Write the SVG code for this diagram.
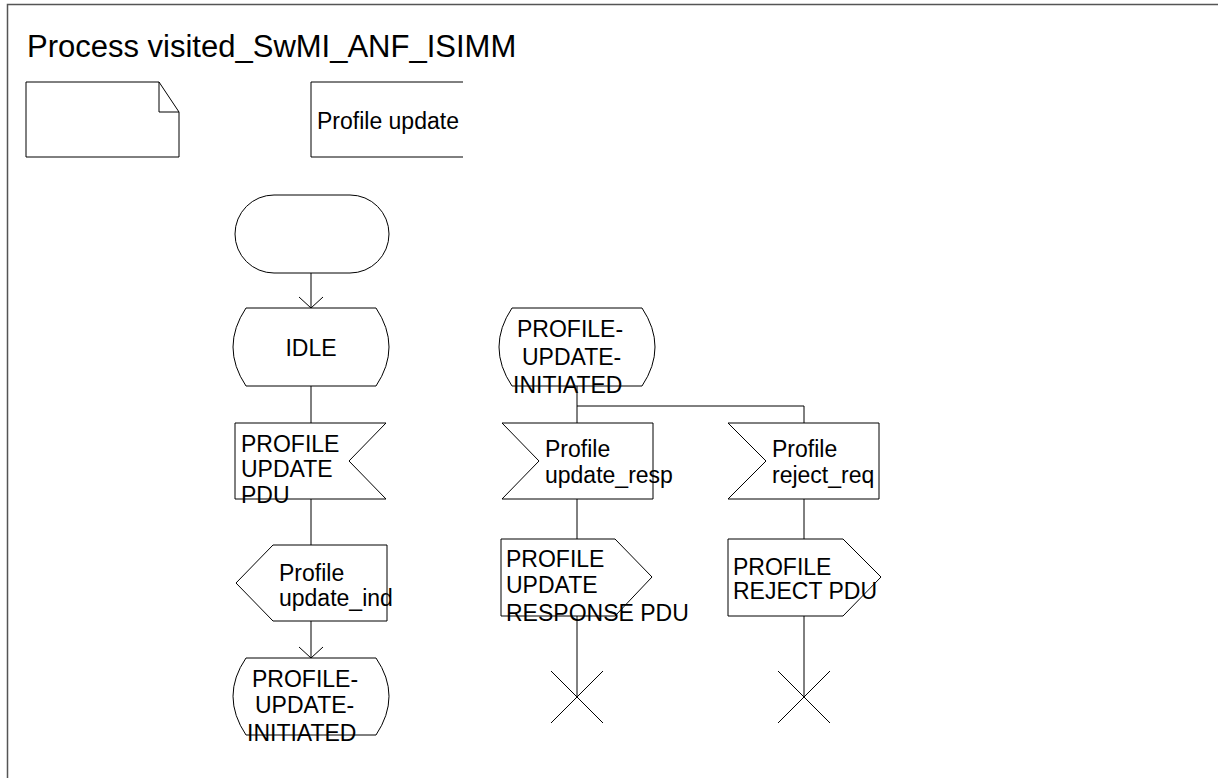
<svg xmlns="http://www.w3.org/2000/svg" width="1218" height="778" viewBox="0 0 1218 778">
<style>
.s{fill:#fff;stroke:#000;stroke-width:1}
.l{fill:none;stroke:#000;stroke-width:1}
.t{font-family:"Liberation Sans",Arial,sans-serif;font-size:23px;fill:#000}
.ti{font-family:"Liberation Sans",Arial,sans-serif;font-size:31px;fill:#000}
</style>
<defs>
<marker id="arr" viewBox="-12 -13 14 26" refX="0" refY="0" markerWidth="14" markerHeight="26" markerUnits="userSpaceOnUse" orient="auto">
<path d="M-11,-12 L0,0 L-11,12" fill="none" stroke="#000" stroke-width="1"/>
</marker>
</defs>
<rect width="1218" height="778" fill="#fff"/>
<g id="frame"><path d="M7.5,778 V4.5 H1218" fill="none" stroke="#555" stroke-width="1.5"/></g>
<g id="title"><text class="ti" x="27" y="57">Process visited_SwMI_ANF_ISIMM</text></g>
<g id="comment"><path class="s" d="M26,82 H159 L179,112 V157 H26 Z"/><path class="l" d="M159,82 V112 H179"/></g>
<g id="textext"><path class="l" d="M463,82 H311 V157 H463"/><text class="t" x="317" y="129">Profile update</text></g>
<g id="connectors">
<path class="l" d="M311,273 V308" marker-end="url(#arr)"/>
<path class="l" d="M311,386 V423"/>
<path class="l" d="M311,499 V545"/>
<path class="l" d="M311,621 V658" marker-end="url(#arr)"/>
<path class="l" d="M577,386 V423 M577,406 H804 V423"/>
<path class="l" d="M577,499 V539"/>
<path class="l" d="M577,616 V697"/>
<path class="l" d="M804,499 V539"/>
<path class="l" d="M804,616 V697"/>
</g>
<g id="start"><rect class="s" x="235" y="195" width="154" height="78" rx="39" ry="39"/></g>
<g id="idle"><path class="s" d="M246,308 H376 Q402,347 376,386 H246 Q220,347 246,308 Z"/><text class="t" x="311" y="356" text-anchor="middle">IDLE</text></g>
<g id="in_pdu"><path class="s" d="M235,423 H386 L349,461 L386,499 H235 Z"/><text class="t" x="241" y="452">PROFILE</text><text class="t" x="241" y="477">UPDATE</text><text class="t" x="241" y="503">PDU</text></g>
<g id="out_ind"><path class="s" d="M273,545 H387 V621 H273 L236,583 Z"/><text class="t" x="279" y="581">Profile</text><text class="t" x="279" y="606">update_ind</text></g>
<g id="state_a"><path class="s" d="M246,658 H376 Q402,696 376,735 H246 Q220,696 246,658 Z"/><text class="t" x="252" y="687">PROFILE-</text><text class="t" x="255" y="713">UPDATE-</text><text class="t" x="247" y="741">INITIATED</text></g>
<g id="state_b"><path class="s" d="M512,308 H642 Q668,347 642,386 H512 Q486,347 512,308 Z"/><text class="t" x="517" y="337">PROFILE-</text><text class="t" x="522" y="365">UPDATE-</text><text class="t" x="513" y="393">INITIATED</text></g>
<g id="in_resp"><path class="s" d="M502,423 H653 V499 H502 L539,461 Z"/><text class="t" x="545" y="457">Profile</text><text class="t" x="545" y="483">update_resp</text></g>
<g id="in_rej"><path class="s" d="M728,423 H879 V499 H728 L766,461 Z"/><text class="t" x="772" y="457">Profile</text><text class="t" x="772" y="483">reject_req</text></g>
<g id="out_resp"><path class="s" d="M501,539 H615 L652,577 L615,616 H501 Z"/><text class="t" x="506" y="567">PROFILE</text><text class="t" x="506" y="593">UPDATE</text><text class="t" x="506" y="621">RESPONSE PDU</text></g>
<g id="out_rej"><path class="s" d="M728,539 H843 L881,577 L843,616 H728 Z"/><text class="t" x="733" y="575">PROFILE</text><text class="t" x="733" y="599">REJECT PDU</text></g>
<g id="stop1"><path class="l" d="M551,671 L603,723 M603,671 L551,723"/></g>
<g id="stop2"><path class="l" d="M778,671 L830,723 M830,671 L778,723"/></g>
</svg>
